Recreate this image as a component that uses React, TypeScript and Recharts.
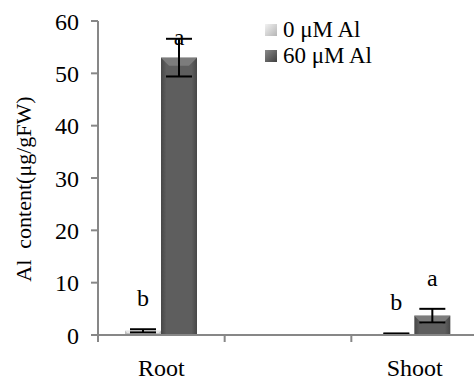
import { Bar, BarChart, ErrorBar, LabelList, XAxis, YAxis } from "recharts"

const categories = ["Root", "", "Shoot"]
const al0 = [0.8, null, 0.2]
const al0Err = [0.3, null, 0.1]
const al60 = [53, null, 3.7]
const al60Err = [3.6, null, 1.3]
const al0Letters = ["b", "", "b"]
const al60Letters = ["a", "", "a"]
const yTicks = [0, 10, 20, 30, 40, 50, 60]

const font = "'Liberation Serif', 'Times New Roman', serif"
const axisColor = "#878787"

const chartData = categories.map((name, i) => ({
  name,
  al0: al0[i],
  al0Err: al0Err[i],
  al60: al60[i],
  al60Err: al60Err[i]
}))

type ShapeProps = {
  x?: number
  y?: number
  width?: number
  height?: number
  light?: boolean
}

function BevelBar({ x = 0, y = 0, width = 0, height = 0, light }: ShapeProps) {
  if (!height || height <= 0) return null
  const b = Math.min(8, height / 2, width / 4)
  return (
    <g>
      <rect x={x} y={y} width={width} height={height} fill={light ? "url(#gLight)" : "url(#gDark)"} />
      <polygon
        points={`${x},${y} ${x + width},${y} ${x + width - b},${y + b} ${x + b},${y + b}`}
        fill={light ? "#e6e6e6" : "#7c7c7c"}
      />
    </g>
  )
}

function makeLetter(values: (number | null)[], letters: string[], errs: (number | null)[]) {
  return function Letter(props: any) {
    const { x, y, width, height, value } = props
    const i = categories.indexOf(value)
    const v = values[i]
    const letter = letters[i]
    if (i < 0 || !letter || v == null) return null
    const ratio = v ? height / v : 0
    const errTop = y - (errs[i] ?? 0) * ratio
    const cy = Math.max(errTop - 31, 37)
    return (
      <text
        x={x + width / 2}
        y={cy}
        textAnchor="middle"
        dominantBaseline="central"
        fontFamily={font}
        fontSize={24}
        fill="#000"
      >
        {letter}
      </text>
    )
  }
}

function CategoryTick(props: any) {
  const { x, y, payload } = props
  const band = (478 - 98) / categories.length
  return (
    <g>
      <line x1={x - band / 2} y1={y} x2={x - band / 2} y2={y + 7} stroke={axisColor} strokeWidth={2} />
      <text x={x} y={y + 41} textAnchor="middle" fontFamily={font} fontSize={24} fill="#000">
        {payload.value}
      </text>
    </g>
  )
}

function YLabel() {
  return (
    <text
      x={0}
      y={0}
      transform="translate(31 189) rotate(-90)"
      textAnchor="middle"
      fontFamily={font}
      fontSize={22}
      fill="#000"
      style={{ whiteSpace: "pre" }}
    >
      {"Al\u00a0 content(μg/gFW)"}
    </text>
  )
}

function LegendBox() {
  const rows = [
    { label: "0 μM Al", bg: "linear-gradient(135deg, #f2f2f2, #b5b5b5)" },
    { label: "60 μM Al", bg: "linear-gradient(135deg, #8a8a8a, #3f3f3f)" }
  ]
  return (
    <div style={{ position: "absolute", left: 265, top: 17, fontFamily: font, fontSize: 23, color: "#000" }}>
      {rows.map((r) => (
        <div key={r.label} style={{ display: "flex", alignItems: "center", height: 26 }}>
          <span style={{ width: 12, height: 12, background: r.bg, marginRight: 6, display: "inline-block" }} />
          {r.label}
        </div>
      ))}
    </div>
  )
}

export default function App() {
  return (
    <div style={{ position: "absolute", left: 0, top: 0, width: 474, height: 382, overflow: "hidden", background: "#fff" }}>
      <BarChart
        width={478}
        height={382}
        data={chartData}
        margin={{ top: 21, right: 0, bottom: 0, left: 0 }}
        barCategoryGap={27}
        barGap={0}
      >
        <defs>
          <linearGradient id="gDark" x1="0" y1="0" x2="1" y2="0">
            <stop offset="0%" stopColor="#474747" />
            <stop offset="15%" stopColor="#5e5e5e" />
            <stop offset="85%" stopColor="#5e5e5e" />
            <stop offset="100%" stopColor="#474747" />
          </linearGradient>
          <linearGradient id="gLight" x1="0" y1="0" x2="1" y2="0">
            <stop offset="0%" stopColor="#bdbdbd" />
            <stop offset="50%" stopColor="#d6d6d6" />
            <stop offset="100%" stopColor="#bdbdbd" />
          </linearGradient>
        </defs>
        <XAxis
          dataKey="name"
          height={47}
          axisLine={{ stroke: axisColor, strokeWidth: 2 }}
          tickLine={false}
          tickSize={0}
          tickMargin={0}
          tick={<CategoryTick />}
          interval={0}
        />
        <YAxis
          width={98}
          domain={[0, 60]}
          ticks={yTicks}
          interval={0}
          axisLine={{ stroke: axisColor, strokeWidth: 2 }}
          tickLine={{ stroke: axisColor, strokeWidth: 2 }}
          tickSize={7}
          tickMargin={12}
          tick={{ fill: "#000", fontSize: 24, fontFamily: font }}
          label={<YLabel />}
        />
        <Bar dataKey="al0" name="0 μM Al" isAnimationActive={false} shape={<BevelBar light />}>
          <ErrorBar dataKey="al0Err" width={13} stroke="#000" strokeWidth={2} />
          <LabelList dataKey="name" content={makeLetter(al0, al0Letters, al0Err)} />
        </Bar>
        <Bar dataKey="al60" name="60 μM Al" isAnimationActive={false} shape={<BevelBar />}>
          <ErrorBar dataKey="al60Err" width={13} stroke="#000" strokeWidth={2} />
          <LabelList dataKey="name" content={makeLetter(al60, al60Letters, al60Err)} />
        </Bar>
      </BarChart>
      <LegendBox />
    </div>
  )
}
